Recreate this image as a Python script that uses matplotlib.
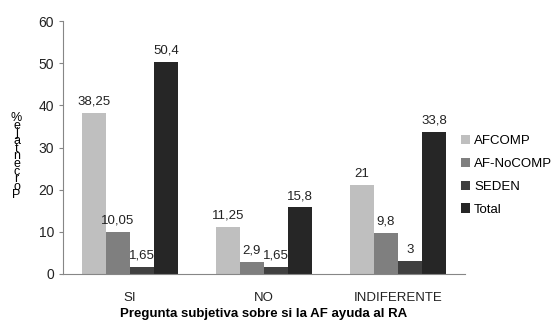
import numpy as np
import matplotlib
matplotlib.use("Agg")
import matplotlib.pyplot as plt
from matplotlib import font_manager

names = {f.name for f in font_manager.fontManager.ttflist}
if 'Liberation Sans Narrow' in names:
    plt.rcParams['font.family'] = ['Liberation Sans Narrow', 'DejaVu Sans']
else:
    plt.rcParams['font.family'] = ['Liberation Sans', 'DejaVu Sans']

# data
categories = ['SI', 'NO', 'INDIFERENTE']
series_names = ['AFCOMP', 'AF-NoCOMP', 'SEDEN', 'Total']
afcomp = [38.25, 11.25, 21]
af_nocomp = [10.05, 2.9, 9.8]
seden = [1.65, 1.65, 3]
total = [50.4, 15.8, 33.8]
value_labels = [['38,25', '11,25', '21'],
                ['10,05', '2,9', '9,8'],
                ['1,65', '1,65', '3'],
                ['50,4', '15,8', '33,8']]
colors = ['#bfbfbf', '#7f7f7f', '#404040', '#262626']

fig = plt.figure(figsize=(5.52, 3.2), dpi=100)
ax = fig.add_axes([0.114, 0.144, 0.728, 0.79])

x = np.arange(len(categories))
w = 0.18
all_series = [afcomp, af_nocomp, seden, total]
for i, (vals, name, c) in enumerate(zip(all_series, series_names, colors)):
    pos = x + (i - 1.5) * w
    ax.bar(pos, vals, width=w, color=c, label=name, zorder=2)
    for p, v, lab in zip(pos, vals, value_labels[i]):
        ax.text(p, v + 1.2, lab, ha='center', va='bottom', fontsize=9.5, color='#222222')

ax.set_xlim(-0.5, 2.5)
ax.set_ylim(0, 60)
ax.set_yticks(range(0, 61, 10))
ax.set_xticks(x)
ax.set_xticklabels(categories)
ax.tick_params(axis='y', labelsize=10, length=3, color='#868686', labelcolor='#222222')
ax.tick_params(axis='x', labelsize=9.5, length=0, pad=13, labelcolor='#222222')
for s in ['top', 'right']:
    ax.spines[s].set_visible(False)
for s in ['left', 'bottom']:
    ax.spines[s].set_color('#868686')

ax.set_xlabel('Pregunta subjetiva sobre si la AF ayuda al RA', fontsize=9.5,
              fontweight='bold', labelpad=3)

# stacked y label as in the original
fig.text(0.03, 0.65, '\n'.join('%ejatnecroP'), fontsize=9, ha='center', va='top',
         linespacing=0.52)

leg = ax.legend(loc='center left', bbox_to_anchor=(0.99, 0.39), frameon=False,
                fontsize=9.5, handlelength=0.7, handleheight=0.7, handletextpad=0.3,
                labelspacing=0.8, borderpad=0, borderaxespad=0)

fig.savefig('out.png', dpi=100)
